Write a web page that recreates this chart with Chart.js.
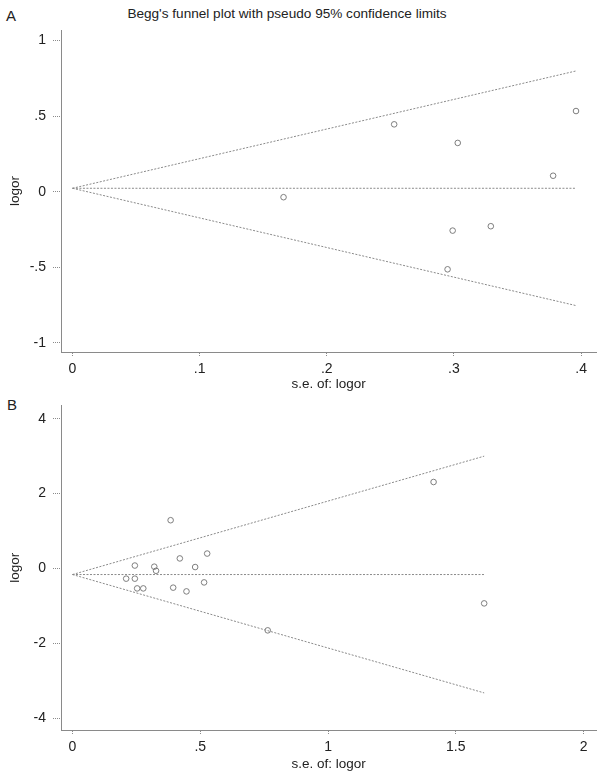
<!DOCTYPE html>
<html>
<head>
<meta charset="utf-8">
<script src="https://cdn.jsdelivr.net/npm/chart.js@4"></script>
<style>
  html, body { margin: 0; padding: 0; background: #fff; width: 600px; height: 772px; overflow: hidden; }
  body { position: relative; font-family: "Liberation Sans", Arial, sans-serif; color: #222; }
  canvas { position: absolute; left: 0; }
  #cA { top: 0; }
  #cB { top: 390px; }
  .lbl { position: absolute; font-size: 15px; line-height: 15px; }
  #title { position: absolute; top: 6px; left: 0; width: 574px; text-align: center; font-size: 13.6px; }
</style>
</head>
<body>
<div class="lbl" style="left:6px; top:8px;">A</div>
<div id="title">Begg's funnel plot with pseudo 95% confidence limits</div>
<div class="lbl" style="left:7px; top:397px;">B</div>
<canvas id="cA" width="600" height="400"></canvas>
<canvas id="cB" width="600" height="382"></canvas>
<script>
// ---- Panel A: Studien (s.e., logor) ----
const seA    = [0.166, 0.253, 0.295, 0.303, 0.396, 0.378, 0.299, 0.329];
const logorA = [-0.036, 0.446, -0.513, 0.323, 0.534, 0.106, -0.257, -0.228];
// Funnel-Linien A (von s.e. 0 bis max s.e.)
const funnelSeA    = [0, 0.396];
const pooledA      = [0.023, 0.023];
const upperA       = [0.023, 0.799];
const lowerA       = [0.023, -0.753];
const xTicksA      = [0, 0.1, 0.2, 0.3, 0.4];
const xTickLabelsA = ["0", ".1", ".2", ".3", ".4"];
const yTicksA      = [-1, -0.5, 0, 0.5, 1];
const yTickLabelsA = ["-1", "-.5", "0", ".5", "1"];

// ---- Panel B ----
const seB    = [0.384, 0.527, 0.420, 0.244, 0.320, 0.327, 0.480, 0.210, 0.244,
                0.515, 0.253, 0.277, 0.394, 0.446, 1.413, 1.611, 0.764];
const logorB = [1.29, 0.40, 0.27, 0.08, 0.05, -0.06, 0.04, -0.27, -0.27,
                -0.37, -0.53, -0.53, -0.51, -0.61, 2.31, -0.93, -1.65];
const funnelSeB    = [0, 1.611];
const pooledB      = [-0.16, -0.16];
const upperB       = [-0.16, 3.00];
const lowerB       = [-0.16, -3.32];
const xTicksB      = [0, 0.5, 1, 1.5, 2];
const xTickLabelsB = ["0", ".5", "1", "1.5", "2"];
const yTicksB      = [-4, -2, 0, 2, 4];
const yTickLabelsB = ["-4", "-2", "0", "2", "4"];

const AXIS = "#8a8a8a";
const MARK = "#707070";
const FONT = "'Liberation Sans', Arial, sans-serif";

const pts = (xs, ys) => xs.map((x, i) => ({ x, y: ys[i] }));

function lineDs(xs, ys){
  return {
    type: "line", data: pts(xs, ys),
    borderColor: AXIS, borderWidth: 1, borderDash: [2, 1.5],
    pointRadius: 0, fill: false, tension: 0
  };
}

function makeChart(id, p){
  const ctx = document.getElementById(id).getContext("2d");
  return new Chart(ctx, {
    type: "scatter",
    data: {
      datasets: [
        lineDs(p.funnelSe, p.upper),
        lineDs(p.funnelSe, p.pooled),
        lineDs(p.funnelSe, p.lower),
        {
          data: pts(p.se, p.logor),
          pointStyle: "circle", pointRadius: 2.8,
          borderColor: MARK, borderWidth: 0.9,
          backgroundColor: "rgba(0,0,0,0)"
        }
      ]
    },
    options: {
      responsive: false, animation: false, devicePixelRatio: 1,
      layout: { padding: { top: p.padTop, right: 3, left: 0, bottom: 0 } },
      plugins: { legend: { display: false }, tooltip: { enabled: false } },
      elements: { point: { hoverRadius: 3 } },
      scales: {
        x: {
          type: "linear", min: p.xMin, max: p.xMax,
          afterBuildTicks: (s) => { s.ticks = p.xTicks.map(v => ({ value: v })); },
          afterFit: (s) => { s.height = p.xHeight; },
          ticks: {
            color: "#222", padding: 4, maxRotation: 0,
            font: { family: FONT, size: 14 },
            callback: (v, i) => p.xTickLabels[i]
          },
          grid: { drawOnChartArea: false, drawTicks: true, tickLength: 5,
                  tickColor: AXIS, tickBorderDash: [1, 1], tickWidth: 1 },
          border: { display: true, color: AXIS, width: 1, dash: [1, 1] },
          title: { display: true, text: "s.e. of: logor", color: "#222",
                   font: { family: FONT, size: 13.5 }, padding: { top: 0, bottom: p.xTitlePad } }
        },
        y: {
          type: "linear", min: p.yMin, max: p.yMax,
          afterBuildTicks: (s) => { s.ticks = p.yTicks.map(v => ({ value: v })); },
          afterFit: (s) => { s.width = 61; },
          ticks: {
            color: "#222", padding: 7,
            font: { family: FONT, size: 14 },
            callback: (v, i) => p.yTickLabels[i]
          },
          grid: { drawOnChartArea: false, drawTicks: true, tickLength: 8,
                  tickColor: AXIS, tickBorderDash: [1, 1], tickWidth: 1 },
          border: { display: true, color: AXIS, width: 1, dash: [1, 1] },
          title: { display: true, text: "logor", color: "#222",
                   font: { family: FONT, size: 13.5 }, padding: { top: 7, bottom: 0 } }
        }
      }
    }
  });
}

window.addEventListener("load", () => {
  makeChart("cA", {
    se: seA, logor: logorA, funnelSe: funnelSeA,
    pooled: pooledA, upper: upperA, lower: lowerA,
    xTicks: xTicksA, xTickLabels: xTickLabelsA,
    yTicks: yTicksA, yTickLabels: yTickLabelsA,
    xMin: -0.009, xMax: 0.4118, yMin: -1.06, yMax: 1.07,
    padTop: 30, xHeight: 48, xTitlePad: 8
  });
  makeChart("cB", {
    se: seB, logor: logorB, funnelSe: funnelSeB,
    pooled: pooledB, upper: upperB, lower: lowerB,
    xTicks: xTicksB, xTickLabels: xTickLabelsB,
    yTicks: yTicksB, yTickLabels: yTickLabelsB,
    xMin: -0.045, xMax: 2.049, yMin: -4.31, yMax: 4.355,
    padTop: 15, xHeight: 42, xTitlePad: 0
  });
});
</script>
</body>
</html>
